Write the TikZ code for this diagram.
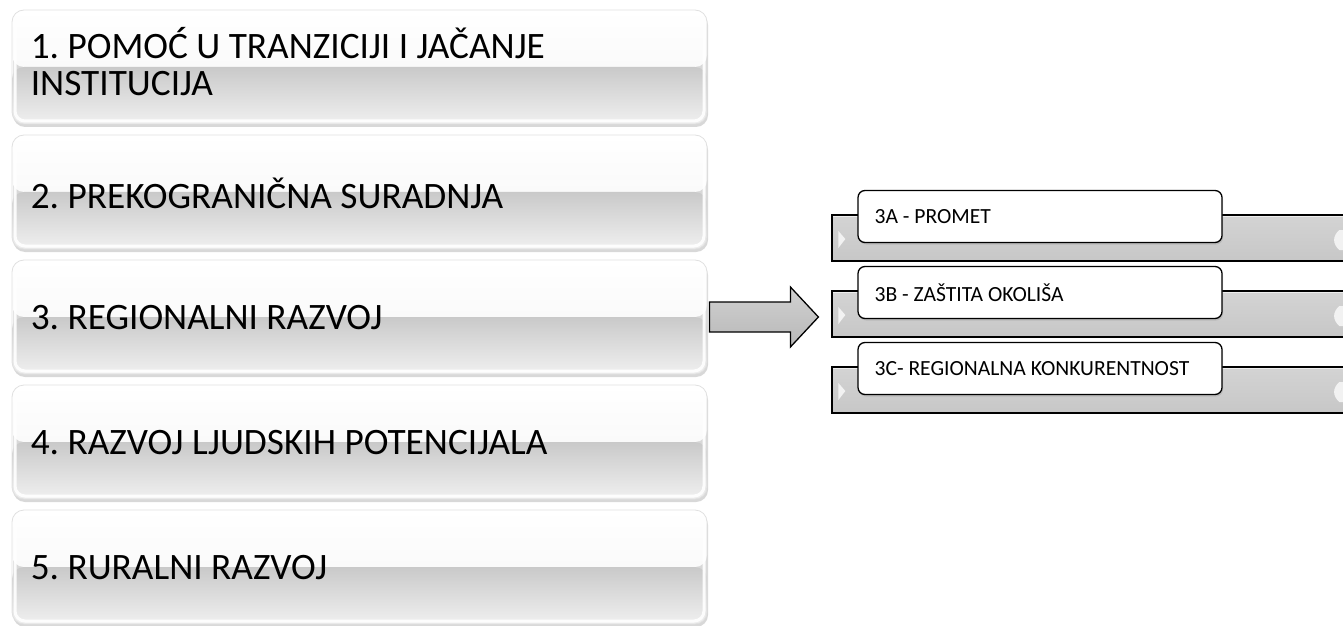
\documentclass[tikz,border=0pt]{standalone}
\usepackage{fontspec}
\setmainfont{Carlito}
\usetikzlibrary{shadows,calc}
\frenchspacing
\begin{document}
\begin{tikzpicture}[x=1pt,y=1pt,
  bigbox/.style={draw=black!12, line width=0.8pt, rounded corners=12pt,
    minimum width=695pt, minimum height=114pt, inner sep=0pt,
    drop shadow={shadow xshift=1pt, shadow yshift=-3pt, opacity=0.3},
    path picture={
      \shade[top color=white, bottom color=black!4]
        (path picture bounding box.north west) rectangle (path picture bounding box.east);
      \shade[top color=black!21, bottom color=black!6]
        (path picture bounding box.west) rectangle (path picture bounding box.south east);
      \draw[white, line width=3pt, rounded corners=10pt, opacity=0.9]
        ($(path picture bounding box.north west)+(3,-3)$) rectangle ($(path picture bounding box.south east)+(-3,3)$);
    }},
  bigtext/.style={anchor=west, inner sep=0pt, font=\fontsize{37.3}{38}\selectfont},
  backbox/.style={draw=black, line width=1.3pt, minimum width=528pt, minimum height=46pt,
    top color=black!17, bottom color=black!22, inner sep=0pt},
  frontbox/.style={draw=black, line width=1.3pt, fill=white, rounded corners=7pt,
    minimum width=364pt, minimum height=52pt, inner sep=0pt,
    drop shadow={shadow xshift=1pt, shadow yshift=-2pt, opacity=0.25}},
  smalltext/.style={anchor=west, inner sep=0pt, font=\fontsize{21.6}{24}\selectfont},
  bevel/.style={fill=black!5, draw=none},
  arrowfill/.style={draw=black, line width=1.3pt, top color=black!18, middle color=black!36, bottom color=black!28}
]
\useasboundingbox (0,0) rectangle (1343,625);
\clip (0,0) rectangle (1343,625);
\fill[white] (0,0) rectangle (1343,625);

% left column
\node[bigbox] (b1) at (359.5,558) {};
\node[bigbox] (b2) at (359.5,433) {};
\node[bigbox] (b3) at (359.5,308) {};
\node[bigbox] (b4) at (359.5,183) {};
\node[bigbox] (b5) at (359.5,58) {};
\node[bigtext] (t1) at ($(b1.west)+(19,0)$) {\begin{tabular}{@{}l@{}}1. POMOĆ U TRANZICIJI I JAČANJE\\[-1pt]INSTITUCIJA\end{tabular}};
\node[bigtext] (t2) at ($(b2.west)+(19,-1)$) {2. PREKOGRANIČNA SURADNJA};
\node[bigtext] (t3) at ($(b3.west)+(19,-1)$) {3. REGIONALNI RAZVOJ};
\node[bigtext] (t4) at ($(b4.west)+(19,-1)$) {4. RAZVOJ LJUDSKIH POTENCIJALA};
\node[bigtext] (t5) at ($(b5.west)+(19,-1)$) {5. RURALNI RAZVOJ};

% right group: back bars
\foreach \n/\yc in {a/387, b/311, c/235}{
  \node[backbox] (back\n) at (1096,\yc) {};
  \draw[white, opacity=0.6, line width=0.8pt] ($(back\n.north west)+(1.5,-2)$) -- ($(back\n.north east)+(-1.5,-2)$);
  \fill[bevel] ($(back\n.west)+(7,7)$) -- ($(back\n.west)+(14,-1)$) -- ($(back\n.west)+(7,-10)$) -- cycle;
  \fill[bevel] ($(back\n.west)+(508,8)$) .. controls ($(back\n.west)+(501,2)$) and ($(back\n.west)+(501,-6)$) .. ($(back\n.west)+(508,-12)$) -- ($(back\n.west)+(514,-12)$) -- ($(back\n.west)+(514,8)$) -- cycle;
}
\node[frontbox] (fa) at (1040,408.5) {};
\node[frontbox] (fb) at (1040,332.5) {};
\node[frontbox] (fc) at (1040,256.5) {};
\node[smalltext] (ta) at ($(fa.west)+(17,0)$) {3A - PROMET};
\node[smalltext] (tb) at ($(fb.west)+(17,0)$) {3B - ZAŠTITA OKOLIŠA};
\node[smalltext] (tc) at ($(fc.west)+(17,0)$) {3C- REGIONALNA KONKURENTNOST};

% block arrow from box 3 to the group
\draw[arrowfill]
  ($(b3.east)+(2,15)$) -- ($(b3.east)+(83,15)$) -- ($(b3.east)+(83,30)$)
  -- ($(b3.east)+(111,0)$)
  -- ($(b3.east)+(83,-30)$) -- ($(b3.east)+(83,-15)$) -- ($(b3.east)+(2,-15)$) -- cycle;
\end{tikzpicture}
\end{document}
